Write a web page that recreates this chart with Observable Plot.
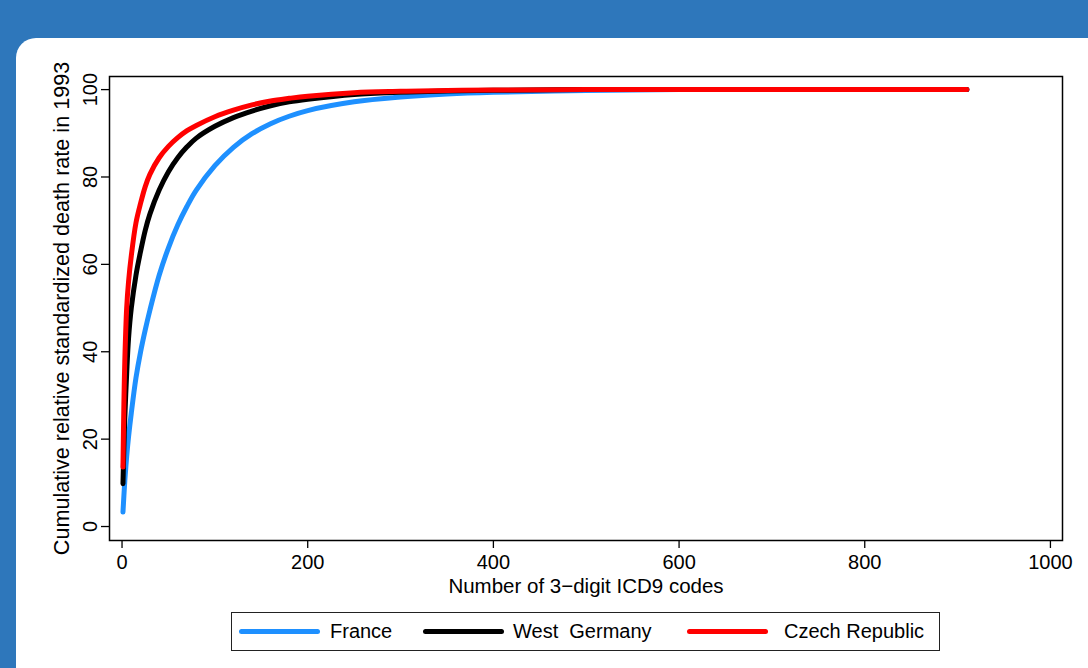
<!DOCTYPE html>
<html>
<head>
<meta charset="utf-8">
<script src="https://cdn.jsdelivr.net/npm/d3@7"></script>
<script src="https://cdn.jsdelivr.net/npm/@observablehq/plot@0.6"></script>
<style>
  html, body { margin: 0; padding: 0; width: 1088px; height: 668px; overflow: hidden; background: #2e77bb; font-family: "Liberation Sans", Arial, Helvetica, sans-serif; }
  #panel { position: absolute; left: 16px; top: 38px; width: 1100px; height: 700px; background: #fff; border-radius: 20px; }
  #chart { position: absolute; left: 0; top: 0; }
  #legend { position: absolute; left: 231px; top: 612px; width: 709px; height: 39px; border: 1px solid #222; box-sizing: border-box; background: #fff; }
  .sw { position: absolute; height: 5px; border-radius: 3px; top: 16px; width: 81px; }
  .lt { position: absolute; top: 6px; font-size: 20px; line-height: 24px; white-space: pre; color: #000; }
</style>
</head>
<body>
<div id="panel"></div>
<div id="chart"></div>
<div id="legend"></div>
<script>
// Number of 3-digit ICD9 codes (x positions of the sampled points)
const codes = [1, 2, 3, 5, 7, 10, 15, 20, 25, 30, 40, 50, 60, 70, 80, 100, 120, 140, 160, 180, 200, 250, 300, 350, 400, 500, 600, 700, 800, 910];
// Cumulative relative standardized death rate in 1993 (%)
const france      = [3.3, 7, 10.5, 16, 20.5, 26, 34, 40, 45, 49.5, 57.5, 63.8, 69, 73.3, 77, 82.6, 86.8, 89.9, 92.2, 93.9, 95.2, 97.2, 98.3, 99, 99.4, 99.8, 100, 100, 100, 100];
const westGermany = [9.8, 18, 25, 35, 43, 50, 57.5, 63, 67.8, 71.5, 77, 81.2, 84.4, 86.9, 88.9, 91.6, 93.6, 95.1, 96.3, 97.2, 97.8, 98.9, 99.4, 99.7, 99.85, 100, 100, 100, 100, 100];
const czech       = [13.6, 28, 38, 50, 56, 62, 69.5, 74, 77.8, 80.6, 84.4, 87.0, 89.0, 90.6, 91.8, 93.8, 95.3, 96.5, 97.4, 98.0, 98.5, 99.3, 99.6, 99.8, 99.9, 100, 100, 100, 100, 100];

const countries = ["France", "West  Germany", "Czech Republic"];
const colors = ["#1e90ff", "#000000", "#ff0000"];
const xTicks = [0, 200, 400, 600, 800, 1000];
const yTicks = [0, 20, 40, 60, 80, 100];
const xTitle = "Number of 3\u2212digit ICD9 codes";
const yTitle = "Cumulative relative standardized death rate in 1993";

const series = [france, westGermany, czech];
const rows = [];
series.forEach((s, i) => s.forEach((v, j) => rows.push({country: countries[i], code: codes[j], value: v})));

const font = "'Liberation Sans', Arial, Helvetica, sans-serif";

const chart = Plot.plot({
  width: 1088,
  height: 600,
  marginLeft: 109,
  marginRight: 26,
  marginTop: 76,
  marginBottom: 60,
  style: {background: "transparent", fontFamily: font, fontSize: "20px", color: "#000", overflow: "visible"},
  x: {domain: [-13.5, 1013]},
  y: {domain: [-3.2, 103]},
  color: {domain: countries, range: colors},
  marks: [
    Plot.line(rows, {x: "code", y: "value", z: "country", stroke: "country", strokeWidth: 5, curve: "catmull-rom"}),
    Plot.frame({stroke: "#000", strokeWidth: 1.5}),
    Plot.axisX({ticks: xTicks, tickFormat: d => String(d), tickSize: 8, tickPadding: 6, strokeWidth: 1.3, label: null}),
    Plot.axisX({ticks: [], tickSize: 0, label: xTitle, labelAnchor: "center", labelOffset: 52, labelArrow: "none", fontSize: 20.5}),
    Plot.axisY({ticks: yTicks, tickFormat: d => String(d), tickSize: 8, tickRotate: -90, tickPadding: 5, strokeWidth: 1.3, label: null}),
    Plot.axisY({ticks: [], tickSize: 0, label: yTitle, labelAnchor: "center", labelOffset: 56, labelArrow: "none", fontSize: 21.6})
  ]
});
document.getElementById("chart").appendChild(chart);

// legend
const legend = document.getElementById("legend");
const swLeft = [7, 191, 455];
const txLeft = [98, 281, 552];
countries.forEach((c, i) => {
  const sw = document.createElement("div");
  sw.className = "sw";
  sw.style.left = swLeft[i] + "px";
  sw.style.background = colors[i];
  legend.appendChild(sw);
  const t = document.createElement("div");
  t.className = "lt";
  t.style.left = txLeft[i] + "px";
  t.textContent = c;
  legend.appendChild(t);
});
</script>
</body>
</html>
